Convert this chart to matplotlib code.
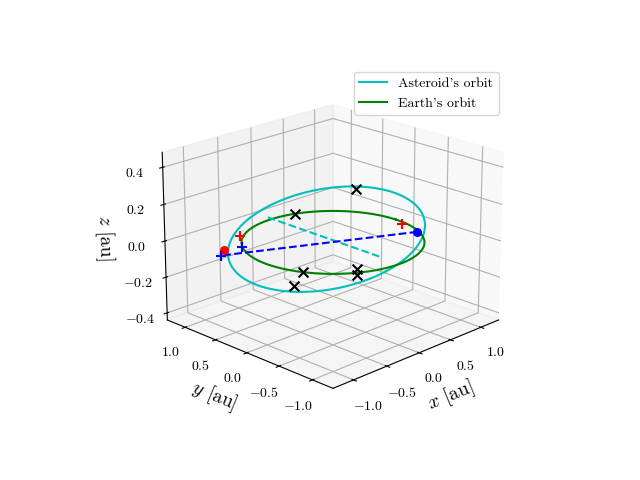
import numpy as np
import matplotlib
matplotlib.use("Agg")
import matplotlib.pyplot as plt

plt.rcParams["mathtext.fontset"] = "cm"
plt.rcParams["font.family"] = "serif"
plt.rcParams["font.serif"] = ["cmr10"]
plt.rcParams["axes.formatter.use_mathtext"] = True

# orbital elements (au, degrees)
ast_a, ast_e, ast_inc, ast_node, ast_peri = 1.09, 0.12, 6.5, -85.0, -15.0
earth_a = 1.0
# marked points (x, y, z)
cross_pts = [(0.92, 0.55, 0.12), (0.33, 0.94, 0.0), (-1.0, -0.42, -0.065),
             (-0.89, -0.45, 0.0), (-0.51, -0.86, 0.02), (-0.51, -0.86, -0.01)]
red_plus = [(-0.62, 0.83, 0.0), (0.94, -0.16, 0.0)]
blue_plus = [(-1.17, 0.53, 0.0), (-0.84, 0.56, 0.0)]
red_dot = (-1.04, 0.62, 0.0)
blue_dots = [(0.87, -0.45, 0.0)]
cyan_dash = [(0.01, 1.05, 0.005), (0.01, -0.71, 0.0)]
blue_dash = [(0.87, -0.45, 0.0), (-1.17, 0.53, 0.0)]

nu = np.linspace(0, 2*np.pi, 400)
r = ast_a*(1-ast_e**2)/(1+ast_e*np.cos(nu))
xo, yo = r*np.cos(nu+np.radians(ast_peri)), r*np.sin(nu+np.radians(ast_peri))
i, O = np.radians(ast_inc), np.radians(ast_node)
y1, z1 = yo*np.cos(i), yo*np.sin(i)
xa = xo*np.cos(O) - y1*np.sin(O)
ya = xo*np.sin(O) + y1*np.cos(O)
za = z1

fig = plt.figure(figsize=(6.4, 4.8), dpi=100)
ax = fig.add_subplot(projection="3d")
ax.view_init(elev=20, azim=-135)
ax.plot(xa, ya, za, color="c", label="Asteroid's orbit")
ax.plot(earth_a*np.cos(nu), earth_a*np.sin(nu), 0*nu, color="g", label="Earth's orbit")
for p in cross_pts:
    ax.scatter(*p, marker="x", color="k", s=50)
for p in red_plus:
    ax.scatter(*p, marker="+", color="r", s=60)
for p in blue_plus:
    ax.scatter(*p, marker="+", color="b", s=60)
ax.scatter(*red_dot, color="r", s=30)
for p in blue_dots:
    ax.scatter(*p, color="b", s=30)
ax.plot(*zip(*cyan_dash), "c--")
ax.plot(*zip(*blue_dash), "b--")
ax.set_xlim(-1.3, 1.3); ax.set_ylim(-1.3, 1.3); ax.set_zlim(-0.44, 0.48)
ax.set_xticks([-1, -0.5, 0, 0.5, 1]); ax.set_yticks([-1, -0.5, 0, 0.5, 1])
ax.set_zticks([-0.4, -0.2, 0, 0.2, 0.4])
ax.set_xlabel(r"$x$ [au]", fontsize=14)
ax.set_ylabel(r"$y$ [au]", fontsize=14)
ax.set_zlabel(r"$z$ [au]", fontsize=14)
ax.legend(loc="upper right", bbox_to_anchor=(0.79, 0.865), bbox_transform=fig.transFigure)
fig.savefig("out.png", dpi=100)
